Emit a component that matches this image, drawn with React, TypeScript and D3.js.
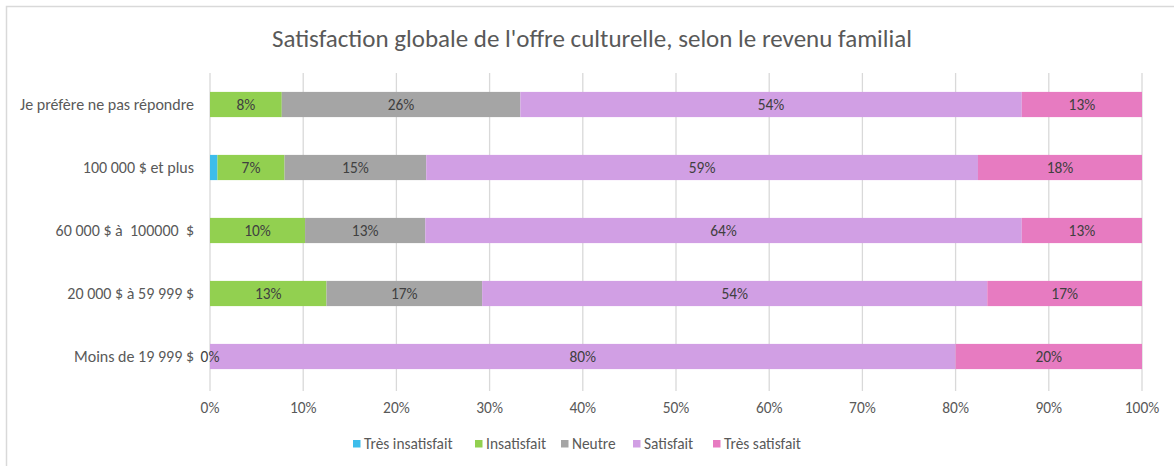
import React from "react";
import * as d3 from "d3";

const categories = [
  "Je préfère ne pas répondre",
  "100 000 $ et plus",
  "60 000 $ à  100000  $",
  "20 000 $ à 59 999 $",
  "Moins de 19 999 $",
];
const seriesNames = ["Très insatisfait", "Insatisfait", "Neutre", "Satisfait", "Très satisfait"];
const seriesColors = ["#3DBDEB", "#92D050", "#A5A5A5", "#D19FE4", "#E77BC1"];

const tresInsatisfait = [0, 0.8, 0, 0, 0];
const insatisfait = [7.7, 7.2, 10.2, 12.5, 0];
const neutre = [25.6, 15.2, 12.9, 16.7, 0];
const satisfait = [53.8, 59.2, 64.0, 54.2, 80];
const tresSatisfait = [12.9, 17.6, 12.9, 16.6, 20];

const xTicks = [0, 10, 20, 30, 40, 50, 60, 70, 80, 90, 100];
const title = "Satisfaction globale de l'offre culturelle, selon le revenu familial";
// zero-valued segments whose label is still displayed
const zeroLabels = [{ cat: "Moins de 19 999 $", series: "Insatisfait" }];

const FONT = "Carlito, Calibri, Lato, 'Open Sans', sans-serif";

export default function App() {
  const W = 1174, H = 466;
  const x = d3.scaleLinear().domain([0, 100]).range([210, 1142]);
  const y = d3.scaleBand<string>().domain(categories).range([73, 388]).paddingInner(0.6).paddingOuter(0.3);

  const values = [tresInsatisfait, insatisfait, neutre, satisfait, tresSatisfait];
  const rows = categories.map((c, i) => {
    const r: any = { cat: c };
    seriesNames.forEach((s, j) => (r[s] = values[j][i]));
    return r;
  });
  const stacked = d3.stack<any>().keys(seriesNames)(rows);

  const legendX = [353, 475, 561, 633, 713];
  const LBL = 15.4;

  return (
    <svg width={W} height={H} style={{ position: "absolute", left: 0, top: 0 }} fontFamily={FONT}>
      <rect x={0} y={0} width={W} height={H} fill="#fff" />
      <rect x={6.5} y={6.5} width={W + 10} height={H + 10} fill="none" stroke="#D9D9D9" strokeWidth={1.5} />
      <text x={592} y={47} textAnchor="middle" fontSize={25} fill="#595959">{title}</text>
      {xTicks.map((t) => (
        <line key={t} x1={x(t)} x2={x(t)} y1={73} y2={391} stroke="#D9D9D9" strokeWidth={1.3} />
      ))}
      {xTicks.map((t) => (
        <text key={"l" + t} x={x(t)} y={413} textAnchor="middle" fontSize={LBL} fill="#595959">{t + "%"}</text>
      ))}
      {categories.map((c) => (
        <text key={c} x={194} y={(y(c) as number) + y.bandwidth() / 2 + 5} textAnchor="end" fontSize={16} fill="#595959" style={{ whiteSpace: "pre" }}>{c}</text>
      ))}
      {stacked.map((layer, j) => (
        <g key={layer.key}>
          {layer.map((d, i) => {
            const x0 = x(d[0]), x1 = x(d[1]);
            const cat = categories[i];
            const v = d[1] - d[0];
            return v > 0 ? (
              <rect key={cat} x={x0} y={y(cat)} width={x1 - x0} height={y.bandwidth()} fill={seriesColors[j]} />
            ) : null;
          })}
        </g>
      ))}
      {stacked.map((layer) => (
        <g key={"t" + layer.key}>
          {layer.map((d, i) => {
            const x0 = x(d[0]), x1 = x(d[1]);
            const cat = categories[i];
            const v = d[1] - d[0];
            const showZero = zeroLabels.some((z) => z.cat === cat && z.series === layer.key);
            const showLabel = v >= 2 || showZero;
            const cy = (y(cat) as number) + y.bandwidth() / 2;
            return showLabel ? (
              <text key={cat} x={(x0 + x1) / 2} y={cy + 5} textAnchor="middle" fontSize={LBL} fill="#404040">
                {Math.round(v) + "%"}
              </text>
            ) : null;
          })}
        </g>
      ))}
      {seriesNames.map((s, j) => (
        <g key={s}>
          <rect x={legendX[j]} y={440} width={7.5} height={7.5} fill={seriesColors[j]} />
          <text x={legendX[j] + 11} y={449} fontSize={LBL} fill="#595959">{s}</text>
        </g>
      ))}
    </svg>
  );
}
